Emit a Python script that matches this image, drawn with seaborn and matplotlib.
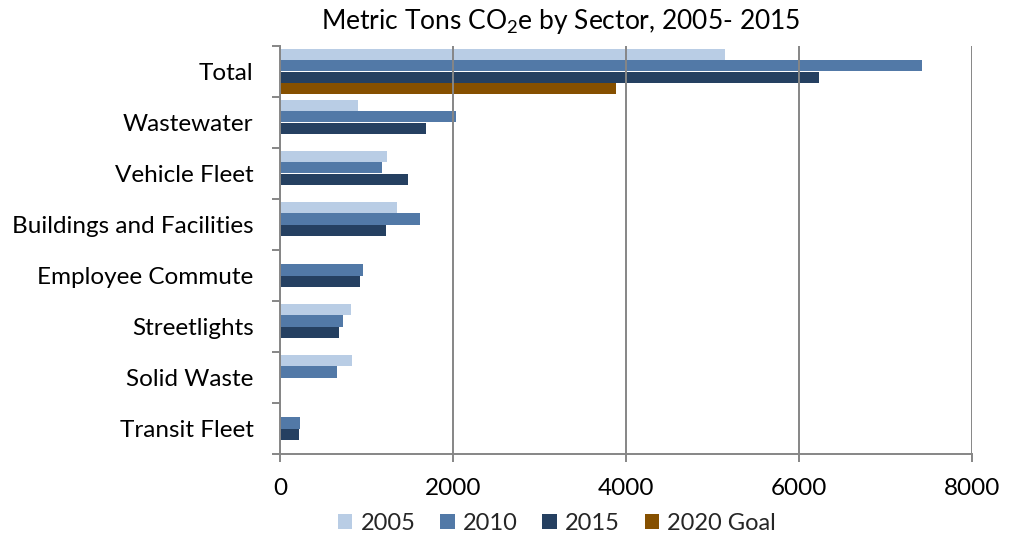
import numpy as np
import pandas as pd
import matplotlib
matplotlib.use("Agg")
import matplotlib.pyplot as plt
import seaborn as sns

# Sectors (top to bottom) and metric tons CO2e per year
sectors = ["Total", "Wastewater", "Vehicle Fleet", "Buildings and Facilities",
           "Employee Commute", "Streetlights", "Solid Waste", "Transit Fleet"]
y2005 = [5150, 900, 1240, 1350, np.nan, 825, 835, np.nan]
y2010 = [7420, 2030, 1180, 1620, 960, 730, 660, 230]
y2015 = [6230, 1690, 1485, 1220, 920, 680, 15, 215]
goal2020 = [3880, np.nan, np.nan, np.nan, np.nan, np.nan, np.nan, np.nan]
series = ["2005", "2010", "2015", "2020 Goal"]
colors = ["#B9CDE5", "#5279A7", "#254061", "#865000"]
xticks = [0, 2000, 4000, 6000, 8000]

rows = []
for name, vals in zip(series, [y2005, y2010, y2015, goal2020]):
    for s, v in zip(sectors, vals):
        rows.append({"Sector": s, "Series": name, "Value": v})
df = pd.DataFrame(rows)

sns.set_theme(style="white")
plt.rcParams["font.family"] = ["Lato", "DejaVu Sans"]
plt.rcParams["mathtext.fontset"] = "custom"
plt.rcParams["mathtext.rm"] = "Lato"
plt.rcParams["mathtext.it"] = "Lato"

W, H = 1019, 540
fig = plt.figure(figsize=(W / 100, H / 100), dpi=100)
ax = fig.add_axes([280 / W, 1 - 454 / H, (972 - 280) / W, (454 - 46) / H])

sns.barplot(data=df, x="Value", y="Sector", hue="Series", order=sectors,
            hue_order=series, palette=colors, orient="h", width=0.89,
            linewidth=0, saturation=1, errorbar=None, legend=True, ax=ax)

ax.set_xlim(0, 8000)
ax.set_ylim(len(sectors) - 0.5, -0.5)
ax.set_xlabel("")
ax.set_ylabel("")

grid_c = "#868686"
ax.set_xticks(xticks)
ax.set_xticklabels([str(t) for t in xticks], fontsize=17.5, color="#000000")
ax.xaxis.grid(True, color=grid_c, linewidth=1.4)
ax.set_axisbelow(False)
for gl in ax.get_xgridlines():
    gl.set_zorder(3)
ax.tick_params(axis="x", which="major", length=6, width=1.4, color=grid_c,
               pad=11, direction="out", bottom=True)

# category labels at the centres, tick marks at the boundaries
ax.set_yticks(range(len(sectors)))
ax.set_yticklabels(sectors, fontsize=17.5, color="#000000")
ax.tick_params(axis="y", which="major", length=0, pad=19)
ax.set_yticks(np.arange(-0.5, len(sectors)), minor=True)
ax.tick_params(axis="y", which="minor", length=6, width=1.4, color=grid_c,
               direction="out", left=True)

for side in ["top", "right"]:
    ax.spines[side].set_visible(False)
for side in ["left", "bottom"]:
    ax.spines[side].set_color(grid_c)
    ax.spines[side].set_linewidth(1.4)
    ax.spines[side].set_zorder(4)

fig.text(561 / W, 1 - 21 / H, r"Metric Tons CO$_2$e by Sector, 2005- 2015",
         ha="center", va="center", fontsize=19, color="#000000")

handles, labels = ax.get_legend_handles_labels()
ax.get_legend().remove()
fig.legend(handles, labels, loc="center", bbox_to_anchor=(557 / W, 1 - 523 / H),
           ncol=4, frameon=False, fontsize=17, handlelength=0.6,
           handleheight=0.6, handletextpad=0.35, columnspacing=1.05,
           borderpad=0.2)

fig.savefig("out.png", dpi=100)
